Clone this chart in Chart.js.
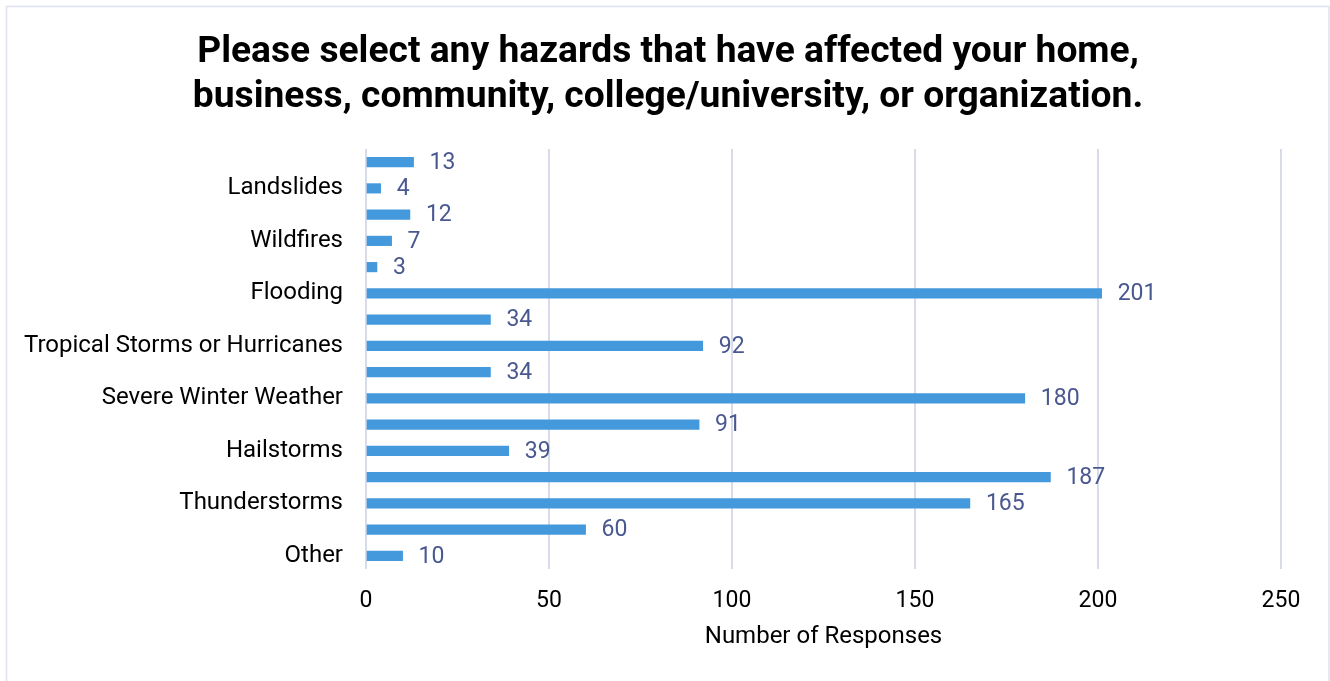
<!DOCTYPE html>
<html>
<head>
<meta charset="utf-8">
<title>Hazards affecting respondents</title>
<script src="https://cdn.jsdelivr.net/npm/chart.js@4.4.1/dist/chart.umd.min.js"></script>
<style>
  html, body { margin: 0; padding: 0; background: #ffffff; }
  #wrap { position: relative; width: 1330px; height: 681px; }
  canvas { display: block; }
</style>
</head>
<body>
<div id="wrap"><canvas id="chart" width="1330" height="681"></canvas></div>
<script>
// Hazard categories, top to bottom; only every other row carries a visible label
const categories = [
  '', 'Landslides', '', 'Wildfires', '', 'Flooding', '',
  'Tropical Storms or Hurricanes', '', 'Severe Winter Weather', '',
  'Hailstorms', '', 'Thunderstorms', '', 'Other'
];

// Number of responses per hazard
const responses = [13, 4, 12, 7, 3, 201, 34, 92, 34, 180, 91, 39, 187, 165, 60, 10];

// Value axis ticks
const xTicks = [0, 50, 100, 150, 200, 250];

const titleLines = [
  'Please select any hazards that have affected your home,',
  'business, community, college/university, or organization.'
];

const FONT = 'Roboto, "Noto Sans", "DejaVu Sans", sans-serif';
const BAR_COLOR = '#4499dd';
const VALUE_COLOR = '#4a5890';
const GRID_COLOR = '#d8dcea';

// White background plus a thin outer frame around the chart
const framePlugin = {
  id: 'frame',
  beforeDraw(chart) {
    const ctx = chart.ctx;
    ctx.save();
    ctx.fillStyle = '#ffffff';
    ctx.fillRect(0, 0, chart.width, chart.height);
    ctx.strokeStyle = '#dfe2f1';
    ctx.lineWidth = 1.5;
    ctx.strokeRect(6.5, 6.5, chart.width - 7.5, chart.height + 20);
    ctx.restore();
  }
};

// Two-line heading centred across the full canvas width
const headingPlugin = {
  id: 'heading',
  afterDraw(chart) {
    const ctx = chart.ctx;
    ctx.save();
    ctx.font = 'bold 37.2px ' + FONT;
    ctx.fillStyle = '#000000';
    ctx.textAlign = 'center';
    ctx.textBaseline = 'alphabetic';
    const cx = 668;
    ctx.fillText(titleLines[0], cx, 62);
    ctx.fillText(titleLines[1], cx, 107);
    ctx.restore();
  }
};

// Value text placed just past the end of each bar
const valueLabels = {
  id: 'valueLabels',
  afterDatasetsDraw(chart) {
    const ctx = chart.ctx;
    const meta = chart.getDatasetMeta(0);
    ctx.save();
    ctx.font = '23px ' + FONT;
    ctx.fillStyle = VALUE_COLOR;
    ctx.textAlign = 'left';
    ctx.textBaseline = 'middle';
    meta.data.forEach((bar, i) => {
      ctx.fillText(String(responses[i]), bar.x + 16, bar.y + 1);
    });
    ctx.restore();
  }
};

new Chart(document.getElementById('chart'), {
  type: 'bar',
  data: {
    labels: categories,
    datasets: [{
      data: responses,
      backgroundColor: BAR_COLOR,
      borderWidth: 0,
      barThickness: 9.5
    }]
  },
  options: {
    indexAxis: 'y',
    responsive: false,
    animation: false,
    layout: { padding: { left: 0, right: 49, top: 149, bottom: 30 } },
    plugins: {
      legend: { display: false },
      tooltip: { enabled: false },
      title: { display: false }
    },
    scales: {
      x: {
        min: 0,
        max: 250,
        afterBuildTicks(scale) {
          scale.ticks = xTicks.map(v => ({ value: v }));
        },
        afterFit(scale) { scale.height = 82; },
        grid: {
          color: GRID_COLOR,
          lineWidth: 2,
          drawTicks: false
        },
        border: { display: false },
        ticks: {
          color: '#000000',
          font: { family: FONT, size: 23 },
          padding: 18,
          maxRotation: 0
        },
        title: {
          display: true,
          text: 'Number of Responses',
          color: '#000000',
          font: { family: FONT, size: 24 },
          padding: { top: 4, bottom: 0 }
        }
      },
      y: {
        afterFit(scale) { scale.width = 366; },
        grid: { display: false, drawTicks: false },
        border: { display: false },
        ticks: {
          autoSkip: false,
          color: '#000000',
          font: { family: FONT, size: 24 },
          padding: 23
        }
      }
    }
  },
  plugins: [framePlugin, valueLabels, headingPlugin]
});
</script>
</body>
</html>
